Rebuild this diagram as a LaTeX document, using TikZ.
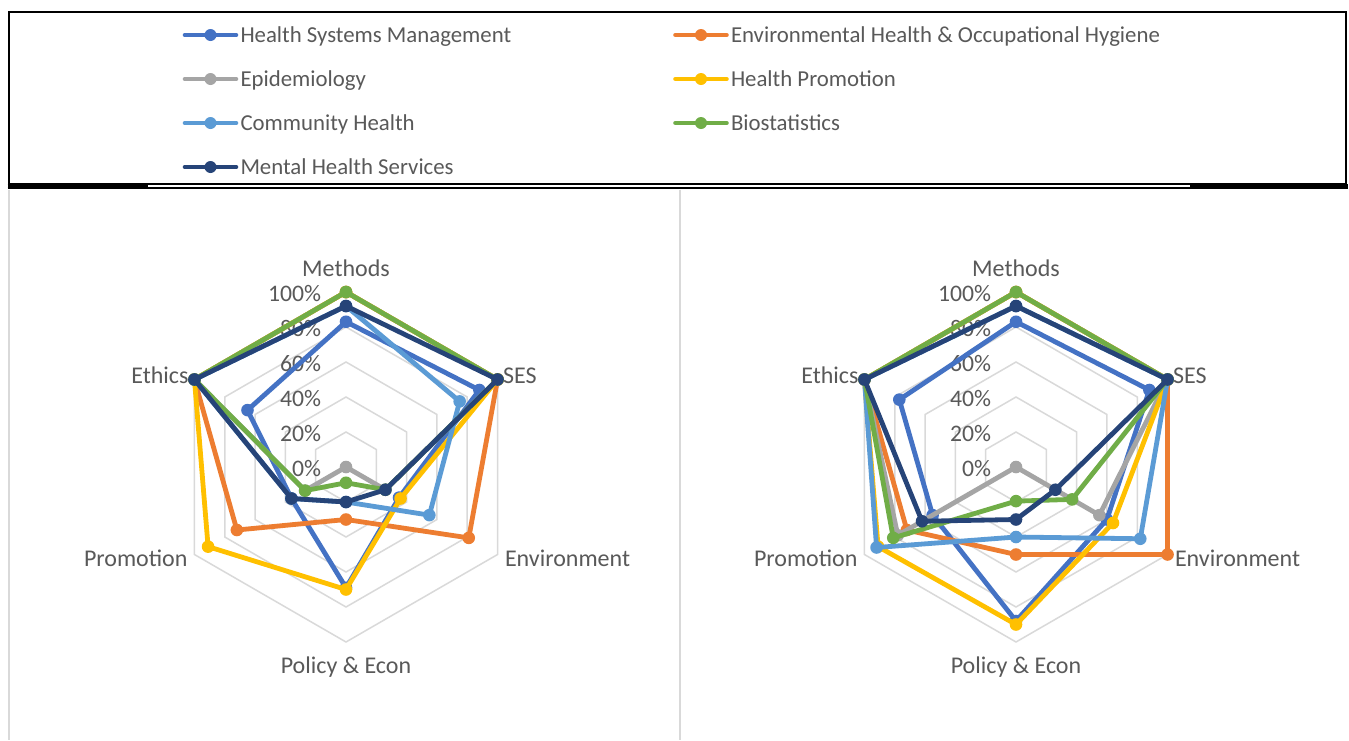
\documentclass[tikz,border=0pt]{standalone}
\usepackage{fontspec}
\setmainfont{Carlito}
\definecolor{txt}{HTML}{595959}
\definecolor{gridc}{HTML}{D9D9D9}
\definecolor{cHSM}{HTML}{4472C4}
\definecolor{cENV}{HTML}{ED7D31}
\definecolor{cEPI}{HTML}{A5A5A5}
\definecolor{cHP}{HTML}{FFC000}
\definecolor{cCH}{HTML}{5B9BD5}
\definecolor{cBIO}{HTML}{70AD47}
\definecolor{cMHS}{HTML}{264478}
\tikzset{
  serline/.style={line width=4.8, line join=round, line cap=round},
  gridl/.style={draw=gridc, line width=1.5},
  lbl/.style={text=txt, inner sep=0, outer sep=0, font=\fontsize{22.8}{27}\selectfont},
  axlbl/.style={lbl, font=\fontsize{24}{28}\selectfont},
  vallbl/.style={lbl, font=\fontsize{23.7}{28}\selectfont},
  legline/.style={line width=4.6, line cap=round},
}
% series: colour, centre x, Methods, SES, Environment, Policy, Promotion, Ethics
\newcommand{\rser}[8]{%
  \begin{scope}[shift={(#2,-467)}]
    \draw[serline,#1] (90:{1.75*#3}) -- (30:{1.75*#4}) -- (-30:{1.75*#5}) -- (-90:{1.75*#6}) -- (-150:{1.75*#7}) -- (150:{1.75*#8}) -- cycle;
    \foreach \a/\v in {90/#3,30/#4,-30/#5,-90/#6,-150/#7,150/#8}
      \fill[#1] (\a:{1.75*\v}) circle (6.3);
  \end{scope}}
% grid + labels for one radar chart; #1 centre x, #2 name prefix
\newcommand{\rgrid}[2]{%
  \begin{scope}[shift={(#1,-467)}]
    \foreach \r in {20,40,60,80,100}
      \draw[gridl] (90:{1.75*\r}) -- (30:{1.75*\r}) -- (-30:{1.75*\r}) -- (-90:{1.75*\r}) -- (-150:{1.75*\r}) -- (150:{1.75*\r}) -- cycle;
    \foreach \v in {0,20,40,60,80,100}
      \node[vallbl, anchor=base east] (#2v\v) at (-25,{1.75*\v-9.7}) {\v\%};
    \node[axlbl, anchor=base] (#2meth) at (0,191) {Methods};
    \node[axlbl, anchor=base west] (#2ses) at (157,83.7) {SES};
    \node[axlbl, anchor=base west] (#2env) at (159,-99.5) {Environment};
    \node[axlbl, anchor=base] (#2pol) at (0,-206.5) {Policy \& Econ};
    \node[axlbl, anchor=base east] (#2pro) at (-158.5,-99.5) {Promotion};
    \node[axlbl, anchor=base east] (#2eth) at (-157.5,83.7) {Ethics};
  \end{scope}}
\newcommand{\legitem}[5]{% colour, line start x, row y, name, text
  \draw[legline,#1] (#2,-#3) -- ({#2+51},-#3);
  \fill[#1] ({#2+25.5},-#3) circle (6);
  \node[lbl, anchor=base west] (#4) at ({#2+55.5},{-#3-7.3}) {#5};}
\begin{document}
\begin{tikzpicture}[x=1pt,y=1pt]
\useasboundingbox (0,0) rectangle (1349,-740);
\fill[white] (0,0) rectangle (1349,-740);
% legend box
\draw[black, line width=1.8] (8.7,-11.7) rectangle (1346,-184.3);
\draw[black, line width=2] (7.5,-187.6) -- (1347.5,-187.6);
\draw[black, line width=3] (7.5,-185) -- (148,-185);
\draw[black, line width=3] (1190,-185) -- (1347.5,-185);
% legend
\legitem{cHSM}{185}{35}{lgHSM}{Health Systems Management}
\legitem{cEPI}{185}{79}{lgEPI}{Epidemiology}
\legitem{cCH}{185}{123}{lgCH}{Community Health}
\legitem{cMHS}{185}{167}{lgMHS}{Mental Health Services}
\legitem{cENV}{675.5}{35}{lgENV}{Environmental Health \& Occupational Hygiene}
\legitem{cHP}{675.5}{79}{lgHP}{Health Promotion}
\legitem{cBIO}{675.5}{123}{lgBIO}{Biostatistics}
% chart area borders
\draw[gridl, line width=1.6] (8.7,-189.5) -- (8.7,-740);
\draw[gridl, line width=1.6] (680,-189.5) -- (680,-740);
% left chart
\rgrid{346}{L}
\rser{cHSM}{346}{83}{88}{35}{69}{36}{65}
\rser{cENV}{346}{100}{100}{81}{30}{72}{100}
\rser{cEPI}{346}{100}{100}{26}{0}{27}{100}
\rser{cHP}{346}{100}{100}{36}{70}{91}{100}
\rser{cCH}{346}{92}{75}{55}{20}{36}{100}
\rser{cBIO}{346}{100}{100}{26}{9}{27}{100}
\rser{cMHS}{346}{92}{100}{26}{20}{36}{100}
% right chart
\rgrid{1016}{R}
\rser{cHSM}{1016}{83}{88}{60}{88}{55}{77}
\rser{cENV}{1016}{100}{100}{100}{50}{72}{100}
\rser{cEPI}{1016}{100}{100}{55}{0}{78}{100}
\rser{cHP}{1016}{100}{100}{64}{90}{91}{100}
\rser{cCH}{1016}{92}{100}{82}{40}{92}{100}
\rser{cBIO}{1016}{100}{100}{37}{19.5}{81}{100}
\rser{cMHS}{1016}{92}{100}{26}{30}{62}{100}
\end{tikzpicture}
\end{document}
